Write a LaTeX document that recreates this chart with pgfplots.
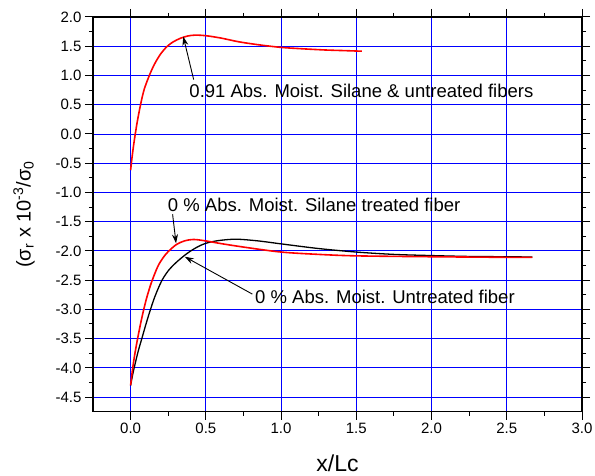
\documentclass[border=0pt]{standalone}
\usepackage{pgfplots}
\pgfplotsset{compat=1.18}
\usepackage{fontspec}
\setmainfont{Liberation Sans}
\usetikzlibrary{arrows.meta}
\begin{document}
\begin{tikzpicture}
\useasboundingbox (0,0) rectangle (595pt,476pt);
\begin{axis}[
  at={(93pt,64.3pt)}, anchor=south west,
  scale only axis, width=489pt, height=394.7pt,
  xmin=-0.25, xmax=3.0, ymin=-4.75, ymax=2.0,
  xtick={0,0.5,...,3.0}, ytick={-4.5,-4.0,...,2.0},
  minor x tick num=1, minor y tick num=1,
  tick align=outside, xtick pos=both, ytick pos=both,
  major tick length=8pt, minor tick length=4pt,
  every tick/.style={black, line width=1pt},
  axis line style={black, line width=1.3pt},
  grid=major,
  major grid style={blue, line width=0.8pt},
  /pgf/number format/assume math mode=true,
  xticklabel style={/pgf/number format/fixed, /pgf/number format/fixed zerofill, /pgf/number format/precision=1},
  yticklabel style={/pgf/number format/fixed, /pgf/number format/fixed zerofill, /pgf/number format/precision=1},
  tick label style={font=\fontsize{15}{15}\selectfont},
  xlabel={x/Lc},
  xlabel style={at={(axis description cs:0.5,-0.13)}, anchor=center, font=\fontsize{23}{23}\selectfont},
  ylabel={(σ\textsubscript{r} x 10\textsuperscript{-3}/σ\textsubscript{0}},
  ylabel style={at={(axis description cs:-0.141,0.5)}, anchor=center, rotate=0, font=\fontsize{20}{20}\selectfont},
]
% 0.91 Abs. Moist. (red, upper)
\addplot[red, line width=1.6pt, smooth] coordinates {
(0,-0.62) (0.005,-0.50) (0.01,-0.39) (0.02,-0.19) (0.031,0.0) (0.045,0.22)
(0.066,0.50) (0.09,0.76) (0.126,1.01) (0.16,1.2) (0.2,1.37) (0.24,1.49)
(0.28,1.57) (0.33,1.635) (0.38,1.675) (0.43,1.69) (0.5,1.68) (0.6,1.64)
(0.72,1.575) (0.85,1.525) (1.0,1.48) (1.15,1.455) (1.3,1.435) (1.42,1.425) (1.537,1.415)
};
% 0 % Untreated fiber (black)
\addplot[black, line width=1.3pt, smooth] coordinates {
(0,-4.30) (0.015,-4.10) (0.03,-3.93) (0.05,-3.72) (0.08,-3.45) (0.1,-3.27)
(0.126,-3.05) (0.16,-2.79) (0.205,-2.52) (0.25,-2.34) (0.302,-2.20)
(0.357,-2.08) (0.4,-2.0) (0.45,-1.925) (0.5,-1.87) (0.58,-1.825) (0.7,-1.80)
(0.85,-1.83) (1.0,-1.88) (1.25,-1.96) (1.5,-2.02) (1.75,-2.06) (2.0,-2.08)
(2.25,-2.095) (2.5,-2.10) (2.67,-2.105)
};
% 0 % Silane treated fiber (red, lower)
\addplot[red, line width=1.6pt, smooth] coordinates {
(0,-4.30) (0.01,-4.08) (0.022,-3.86) (0.035,-3.66) (0.048,-3.48) (0.065,-3.26)
(0.082,-3.06) (0.105,-2.82) (0.137,-2.55) (0.18,-2.27) (0.215,-2.12) (0.247,-2.02)
(0.302,-1.895) (0.357,-1.83) (0.42,-1.805) (0.5,-1.83) (0.6,-1.875)
(0.765,-1.94) (1.0,-2.02) (1.25,-2.06) (1.5,-2.085) (2.0,-2.10) (2.5,-2.11) (2.67,-2.11)
};
\node[anchor=west, inner sep=0pt, font=\fontsize{18.5}{18.5}\selectfont] at (axis cs:0.39,0.742) {0.91 Abs. Moist. Silane \& untreated fibers};
\node[anchor=west, inner sep=0pt, font=\fontsize{18.5}{18.5}\selectfont] at (axis cs:0.247,-1.22) {0 \% Abs. Moist. Silane treated fiber};
\node[anchor=west, inner sep=0pt, font=\fontsize{18.5}{18.5}\selectfont] at (axis cs:0.827,-2.795) {0 \% Abs. Moist. Untreated fiber};
\draw[-{Stealth[length=9pt,width=6pt]}, black, line width=0.9pt] (axis cs:0.419,0.93) -- (axis cs:0.35,1.665);
\draw[-{Stealth[length=9pt,width=6pt]}, black, line width=0.9pt] (axis cs:0.279,-1.374) -- (axis cs:0.302,-1.87);
\draw[-{Stealth[length=9pt,width=6pt]}, black, line width=0.9pt] (axis cs:0.809,-2.739) -- (axis cs:0.36,-2.10);
\end{axis}
\end{tikzpicture}
\end{document}
